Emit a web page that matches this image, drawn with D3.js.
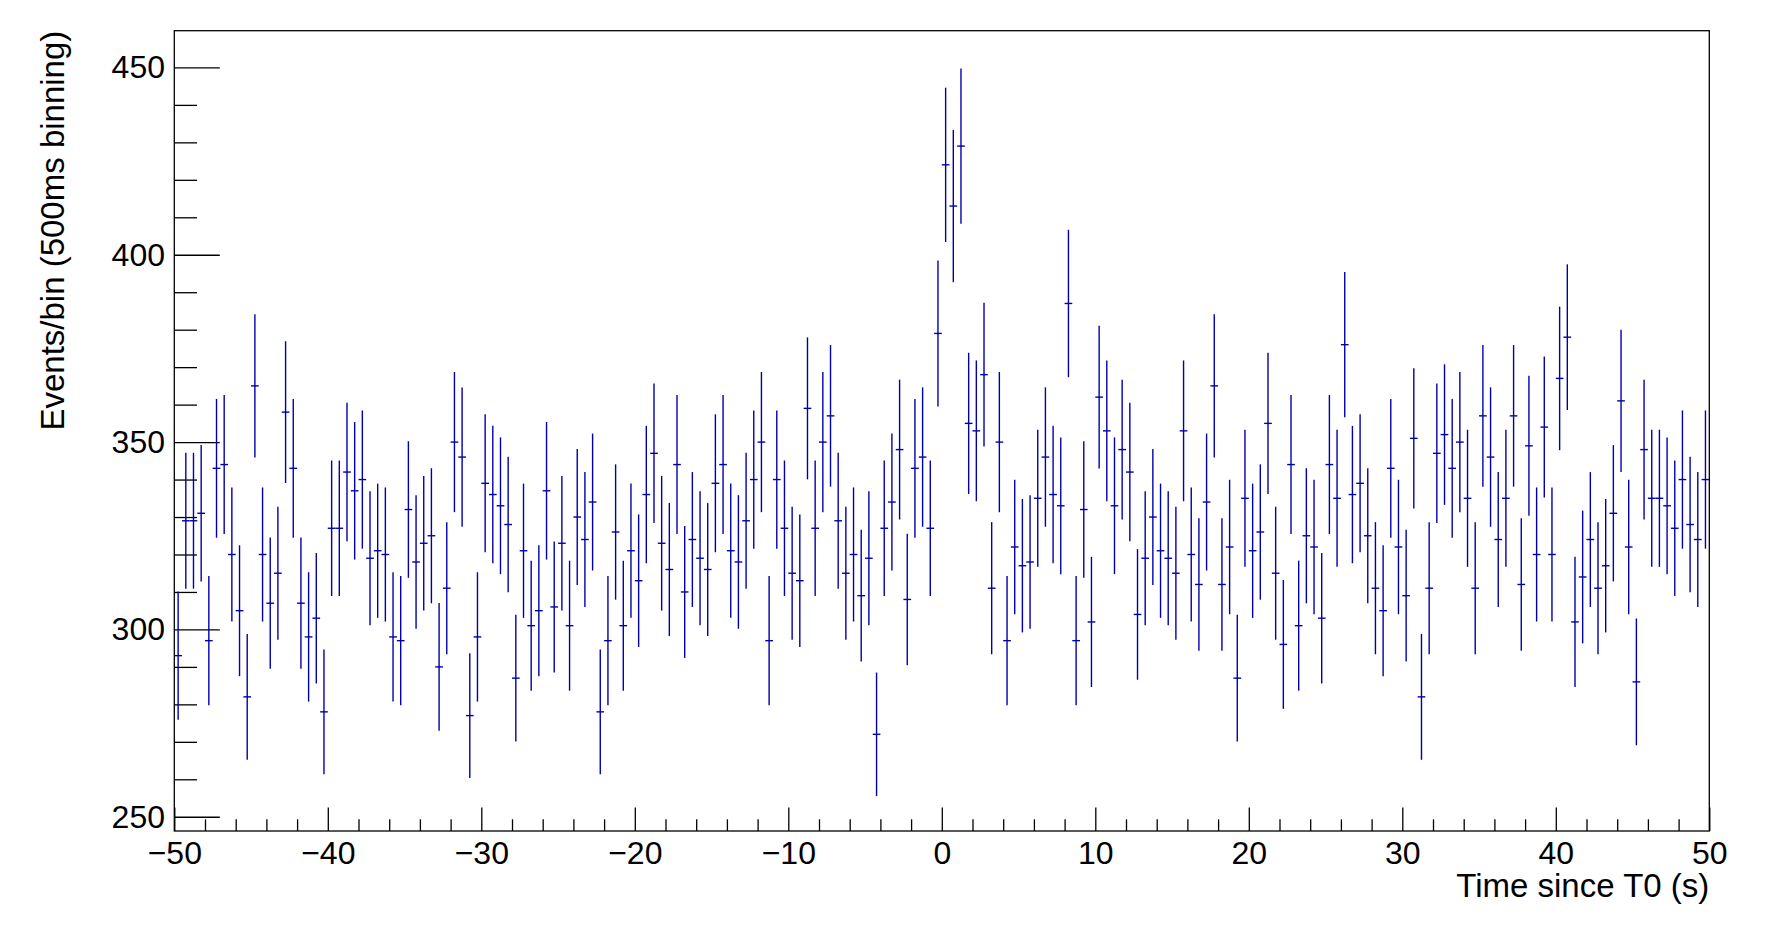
<!DOCTYPE html>
<html>
<head>
<meta charset="utf-8">
<script src="https://cdn.jsdelivr.net/npm/d3@7"></script>
<style>
  html, body { margin: 0; padding: 0; background: #ffffff; }
  svg { display: block; }
  text { font-family: "Liberation Sans", Arial, Helvetica, sans-serif; fill: #000; }
</style>
</head>
<body>
<svg id="chart" width="1785" height="931"></svg>
<script>
// ---- data (200 bins of 0.5 s from -50 to 50) ----
const binEdgesRange = [-50, 50];
const binWidth = 0.5;
const counts = [
  293, 329, 329, 331, 297, 343, 344, 320, 305, 282,
  365, 320, 307, 315, 358, 343, 307, 298, 303, 278,
  327, 327, 342, 337, 340, 319, 321, 320, 298, 297,
  332, 318, 323, 325, 290, 311, 350, 346, 277, 298,
  339, 336, 333, 328, 287, 321, 301, 305, 337, 306,
  323, 301, 330, 324, 334, 278, 297, 326, 301, 321,
  313, 336, 347, 323, 316, 344, 310, 324, 319, 316,
  339, 344, 321, 318, 329, 340, 350, 297, 340, 327,
  315, 313, 359, 327, 350, 357, 329, 315, 320, 309,
  319, 272, 327, 334, 348, 308, 343, 346, 327, 379,
  424, 413, 429, 355, 353, 368, 311, 350, 297, 322,
  317, 318, 335, 346, 336, 333, 387, 297, 332, 302,
  362, 353, 333, 348, 342, 304, 319, 330, 321, 319,
  315, 353, 320, 312, 334, 365, 312, 322, 287, 335,
  321, 326, 355, 315, 296, 344, 301, 325, 322, 303,
  344, 335, 376, 336, 339, 325, 311, 305, 343, 322,
  309, 351, 282, 311, 347, 352, 343, 350, 335, 311,
  357, 346, 324, 335, 357, 312, 349, 320, 354, 320,
  367, 378, 302, 314, 324, 311, 317, 331, 361, 322,
  286, 348, 335, 335, 333, 327, 340, 328, 324, 340
];
const xMajorTicks = [-50, -40, -30, -20, -10, 0, 10, 20, 30, 40, 50];
const xMinorTicks = d3.range(-48, 50, 2).filter(v => v % 10 !== 0);
const yMajorTicks = [250, 300, 350, 400, 450];
const yMinorTicks = [260, 270, 280, 290, 310, 320, 330, 340, 360, 370, 380, 390, 410, 420, 430, 440];
const xTitle = "Time since T0 (s)";
const yTitle = "Events/bin (500ms binning)";

// ---- layout ----
const frame = { left: 174.3, right: 1709.3, top: 30.7, bottom: 831 };
const color = "#0000aa";
const labelSize = 32;
const titleSize = 33;

const svg = d3.select("#chart");

const x = d3.scaleLinear().domain(binEdgesRange).range([frame.left, frame.right]);
const y = d3.scaleLinear().domain([246.2, 459.8]).range([frame.bottom, frame.top]);

const bins = counts.map((c, i) => {
  const lo = binEdgesRange[0] + i * binWidth;
  return { lo, hi: lo + binWidth, mid: lo + binWidth / 2, v: c, e: Math.sqrt(c) };
});

// frame
svg.append("rect")
  .attr("x", frame.left).attr("y", frame.top)
  .attr("width", frame.right - frame.left).attr("height", frame.bottom - frame.top)
  .attr("fill", "none").attr("stroke", "#000").attr("stroke-width", 1.3);

// x axis major
const gx = svg.append("g").attr("transform", `translate(0,${frame.bottom})`)
  .call(d3.axisBottom(x).tickValues(xMajorTicks).tickSize(-23.4).tickPadding(10.7)
    .tickFormat(d => (d < 0 ? "\u2212" + Math.abs(d) : String(d))));
gx.select(".domain").remove();
gx.selectAll("line").attr("stroke", "#000").attr("stroke-width", 1.3);
gx.selectAll("text").attr("font-size", labelSize).attr("font-family", null).style("font-family", '"Liberation Sans", Arial, sans-serif');

const gxm = svg.append("g").attr("transform", `translate(0,${frame.bottom})`)
  .call(d3.axisBottom(x).tickValues(xMinorTicks).tickSize(-11.7).tickFormat(""));
gxm.select(".domain").remove();
gxm.selectAll("line").attr("stroke", "#000").attr("stroke-width", 1.3);

// y axis major
const gy = svg.append("g").attr("transform", `translate(${frame.left},0)`)
  .call(d3.axisLeft(y).tickValues(yMajorTicks).tickSize(-45.5).tickPadding(9.3));
gy.select(".domain").remove();
gy.selectAll("line").attr("stroke", "#000").attr("stroke-width", 1.3);
gy.selectAll("text").attr("font-size", labelSize).attr("font-family", null).style("font-family", '"Liberation Sans", Arial, sans-serif');

const gym = svg.append("g").attr("transform", `translate(${frame.left},0)`)
  .call(d3.axisLeft(y).tickValues(yMinorTicks).tickSize(-22.7).tickFormat(""));
gym.select(".domain").remove();
gym.selectAll("line").attr("stroke", "#000").attr("stroke-width", 1.3);

// error bars
const g = svg.append("g").attr("stroke", color).attr("stroke-width", 1.4).attr("fill", "none");
g.selectAll("line.v").data(bins).join("line").attr("class", "v")
  .attr("x1", d => x(d.mid)).attr("x2", d => x(d.mid))
  .attr("y1", d => y(d.v - d.e)).attr("y2", d => y(d.v + d.e));
g.selectAll("line.h").data(bins).join("line").attr("class", "h")
  .attr("x1", d => x(d.lo)).attr("x2", d => x(d.hi))
  .attr("y1", d => y(d.v)).attr("y2", d => y(d.v));

// titles
svg.append("text").attr("x", frame.right).attr("y", 897)
  .attr("text-anchor", "end").attr("font-size", titleSize).text(xTitle);
svg.append("text").attr("transform", `translate(63.5,${frame.top}) rotate(-90)`)
  .attr("text-anchor", "end").attr("font-size", titleSize).text(yTitle);
</script>
</body>
</html>
